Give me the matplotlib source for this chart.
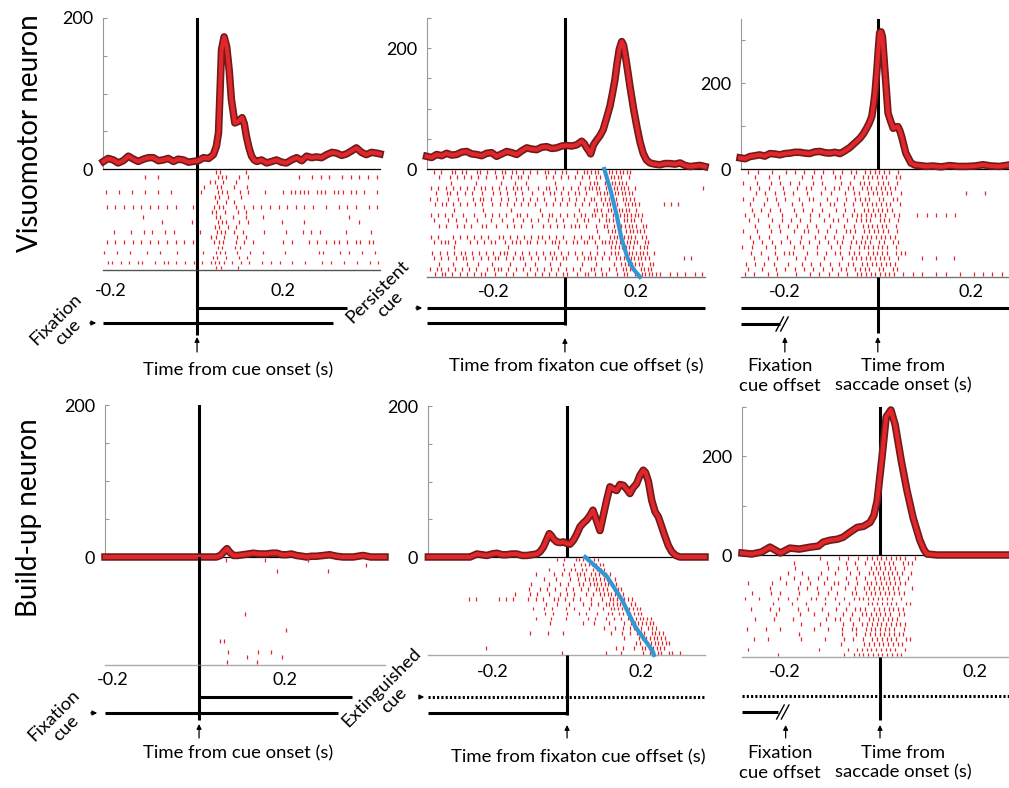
import matplotlib
matplotlib.use('Agg')
import matplotlib.pyplot as plt
import matplotlib.patheffects as pe
import numpy as np

plt.rcParams['font.family'] = ['Lato', 'DejaVu Sans']

W, H = 1009, 788

# ---------------- PSTH data (spikes/s) ----------------
vm_cue_t = [-0.218, -0.207, -0.195, -0.184, -0.172, -0.160, -0.148, -0.137, -0.125, -0.113,
            -0.102, -0.090, -0.079, -0.067, -0.055, -0.044, -0.032, -0.020, -0.009, 0.003,
            0.015, 0.027, 0.038, 0.045, 0.050, 0.054, 0.057, 0.063, 0.069, 0.075,
            0.080, 0.088, 0.096, 0.105, 0.110, 0.115, 0.121, 0.127, 0.133, 0.139,
            0.150, 0.162, 0.174, 0.185, 0.197, 0.208, 0.220, 0.232, 0.244, 0.255,
            0.267, 0.278, 0.290, 0.302, 0.314, 0.325, 0.337, 0.348, 0.360, 0.371,
            0.383, 0.394, 0.406, 0.418, 0.426]
vm_cue_rate = [10, 14, 12, 8, 11, 17, 13, 10, 13, 15,
               15, 11, 12, 14, 10, 13, 12, 9, 10, 11,
               15, 14, 19, 30, 48, 110, 158, 175, 162, 130,
               92, 61, 63, 68, 60, 43, 28, 17, 12, 10,
               12, 8, 10, 12, 9, 8, 12, 15, 11, 17,
               15, 16, 15, 19, 22, 21, 18, 20, 24, 28,
               22, 19, 22, 21, 20]

vm_fix_t = [-0.387, -0.373, -0.359, -0.345, -0.331, -0.317, -0.303, -0.289, -0.275, -0.261,
            -0.247, -0.233, -0.219, -0.205, -0.191, -0.177, -0.163, -0.149, -0.135, -0.121,
            -0.107, -0.093, -0.079, -0.065, -0.051, -0.037, -0.023, -0.009, 0.005, 0.019,
            0.033, 0.047, 0.054, 0.061, 0.067, 0.072, 0.080, 0.089, 0.098, 0.107,
            0.117, 0.126, 0.133, 0.140, 0.146, 0.152, 0.159, 0.164, 0.168, 0.175,
            0.182, 0.192, 0.201, 0.210, 0.219, 0.228, 0.238, 0.252, 0.266, 0.280,
            0.294, 0.308, 0.322, 0.336, 0.350, 0.364, 0.378, 0.392]
vm_fix_rate = [21, 19, 24, 22, 26, 23, 24, 28, 29, 25,
               24, 22, 26, 27, 21, 25, 29, 27, 24, 30,
               35, 33, 32, 36, 37, 34, 35, 38, 39, 38,
               40, 46, 42, 35, 30, 25, 40, 48, 55, 65,
               85, 104, 125, 148, 175, 198, 211, 205, 192, 165,
               137, 100, 71, 45, 26, 15, 10, 8, 7, 9,
               9, 8, 10, 6, 4, 5, 6, 4]

vm_sac_t = [-0.295, -0.284, -0.274, -0.263, -0.253, -0.242, -0.231, -0.220, -0.210, -0.199,
            -0.188, -0.178, -0.167, -0.156, -0.146, -0.135, -0.124, -0.113, -0.103, -0.092,
            -0.081, -0.074, -0.067, -0.060, -0.053, -0.046, -0.038, -0.031, -0.024, -0.018,
            -0.013, -0.009, -0.006, -0.002, 0.001, 0.004, 0.007, 0.010, 0.015, 0.022,
            0.028, 0.033, 0.038, 0.043, 0.047, 0.051, 0.060, 0.071, 0.080, 0.090,
            0.104, 0.118, 0.136, 0.154, 0.172, 0.190, 0.208, 0.225, 0.243, 0.261,
            0.279]
vm_sac_rate = [26, 24, 29, 31, 33, 30, 36, 35, 33, 36,
               37, 39, 39, 37, 36, 40, 41, 38, 37, 39,
               36, 40, 45, 50, 57, 64, 72, 82, 95, 108,
               122, 150, 177, 230, 277, 318, 320, 308, 233, 130,
               110, 95, 97, 99, 90, 76, 37, 14, 9, 8,
               6, 7, 5, 8, 6, 6, 7, 10, 7, 6,
               9]

bu_cue_t = [-0.219, -0.15, -0.1, -0.05, 0.0, 0.04, 0.05, 0.058, 0.065, 0.072,
            0.08, 0.09, 0.103, 0.115, 0.126, 0.14, 0.157, 0.17, 0.181, 0.193,
            0.204, 0.215, 0.227, 0.24, 0.25, 0.262, 0.273, 0.29, 0.304, 0.32,
            0.335, 0.347, 0.359, 0.37, 0.382, 0.4, 0.421, 0.433]
bu_cue_rate = [0, 0, 0, 0, 0, 0, 2, 7, 11, 6,
               2, 2, 3, 4, 5, 4, 4, 5, 5, 3,
               3, 4, 2, 1, 0, 1, 1, 2, 3, 1,
               0, 0, 0, 1, 2, 0, 0, 0]

bu_fix_t = [-0.375, -0.30, -0.262, -0.253, -0.244, -0.230, -0.217, -0.203, -0.190, -0.176,
            -0.163, -0.150, -0.136, -0.122, -0.109, -0.095, -0.082, -0.073, -0.064, -0.056,
            -0.048, -0.042, -0.037, -0.028, -0.019, -0.010, -0.001, 0.008, 0.017, 0.026,
            0.035, 0.044, 0.053, 0.062, 0.070, 0.080, 0.089, 0.098, 0.107, 0.116,
            0.125, 0.134, 0.143, 0.152, 0.161, 0.170, 0.179, 0.188, 0.197, 0.206,
            0.212, 0.220, 0.229, 0.238, 0.247, 0.256, 0.265, 0.274, 0.283, 0.294,
            0.305, 0.373]
bu_fix_rate = [0, 0, 0, 2, 4, 3, 2, 4, 5, 3,
               3, 4, 4, 2, 2, 3, 4, 7, 13, 22,
               31, 28, 24, 20, 19, 20, 18, 17, 22, 30,
               40, 45, 49, 55, 62, 48, 35, 55, 75, 93,
               90, 88, 96, 95, 90, 84, 92, 97, 108, 115,
               112, 100, 75, 60, 53, 40, 27, 15, 7, 2,
               0, 0]

bu_sac_t = [-0.291, -0.27, -0.25, -0.232, -0.21, -0.19, -0.17, -0.147, -0.13, -0.12,
            -0.105, -0.09, -0.078, -0.065, -0.048, -0.035, -0.021, -0.013, -0.006, 0.004,
            0.013, 0.023, 0.032, 0.045, 0.057, 0.07, 0.084, 0.092, 0.099, 0.12, 0.272]
bu_sac_rate = [4, 2, 6, 16, 4, 14, 12, 16, 18, 26,
               30, 32, 36, 45, 56, 58, 66, 80, 110, 196,
               280, 294, 264, 190, 130, 75, 30, 12, 2, 0, 0]

# ---------------- rasters: one string per trial, '|' = spike in a 10 ms bin ----------------
# per-trial offset (ms) of the bin grid, so trials do not line up column by column
trial_offset_ms = [3, 8, 1, 6, 9, 2, 7, 0, 5, 4, 8, 1, 6, 3, 0, 9, 4, 7, 2, 5]

vm_cue_start = -0.22
vm_cue_raster = [
    "..... ..... ..... ..... ..... .||.. ...|. ..... ..... ..... ..... ..... .....",
    "..... ....| ..|.. ..... ..... .|||. .|.|. ..... ..... |..|. |.|.. |.|.| .|.|.",
    "..... ..... ..... ..... ..... ||.|. .|... ..... ..... ..... ..... ..... .....",
    "..... ..... ..... ..... ...|. .||.. |..|. ..... ..... ..... ..... ..... .....",
    "|..|. .|..| ..|.. |.... ..|.. .|||. .|.|. ..|.. .|.|| |||.| ||.|| |.||. |..||",
    "..... ..... ..... ..... ..... .||.| ..|.. ..... ..... ..... ..... ..... .....",
    "..... ..... ..... ..... ..... .|.|. |.... ..... ..... ..... ..... ..... .....",
    ".|.|. |.|.| .|.|. |.|.. .|... .|||. .|.|. |.|.| .|.|. |.|.| ..|.. |.|.| ..|.|",
    "..... ..... ..... ..... ..... ||.|. .|.|. ..... ..... ..... ..... ..... .....",
    "..... ....| ..... ..... ..... .||.. |..|. ..|.. ..... ..... ..... ..|.. .....",
    "..... ..... ...|. ..... |.... .|||. .|.|. ..... .|... .|... ..... ....| ....|",
    "..... ..... ..... ..... ..... .||.| .|... ..... ..... ..... ..... ..... .....",
    "..|.. .|..| .|..| .|... ..|.. .|||. |.|.. ..|.. ..|.. .|.|. |.... .|... ..|..",
    "..... ..... ..... ..... ..... ||.|. .|.|. ..... ..... ..... ..... ..... .....",
    ".|.|. |.|.| .|.|. |.|.| .|... .|||. .|.|. |.... ..|.| ...|. |.|.| |.|.| |.||.",
    "..... ..... ..... ..... ..... .||.. ||... ..... ..... ..... ..... ..... .....",
    "|..|. .|... |..|. ..|.. ...|. .|||. .|..| ..|.. ..|.. ..... ||... |.|.. |..|.",
    "..... ..... ..... ..... ..... ||.|. .|.|. ..... ..... ..... ..... ..... .....",
    ".||.| .|.|| ..|.| |.|.| .|.|. ||||. |.|.| ..|.| .|..| ..|.. .|.|. .|..| ..|.|",
    "..... ..... ..... ..... ..... .||.. .|... ..... ..... ..... ..... ..... .....",
]

vm_fix_start = -0.38
vm_fix_raster = [
    ".|.|. .||.| |..|| .|.|. ||.|| .|.|. |.||. |.||. .|.|| |||.| ||||| ||... ..... ..... ..... .....",
    "..|.. |.|.| .|.|. |..|. |.|.| |.|.. ..|.| .|.|. |.|.| .||.| ||||. |.... ..... ..... ..... .....",
    "..... .|... ...|. ..... |...| ..|.. ..... |.... ..|.. |||.| ||||| |.... ..... ..... ..... .....",
    "|.|.| .|.|. |.|.| |.|.| .|.|| |.|.. |.||. |.|.| .|.|| |||.| ||||| |.|.. ..... ..... ..... .|.|.",
    ".|..| |.|.| .|..| ..|.| .|.|. |..|. .|.|| .|.|. ||.|. .|||| ||||| ||... ..... ..... ..... .....",
    "|.|.. |..|. ..|.| |.|.. |.|.| .|.|. |.|.. |.|.| .|.|. ||.|| |||.| |||.. ..... ..... ..... .....",
    ".|.|| .|.|. |.|.| ..|.| .|.|. |.|.| ..|.| .|.|. |.|.| .|.|| |||.| ||||. ..... |.|.| ..... .....",
    "..... ..|.. ..... |.... ...|. ..... .|... ..... ..|.. .|||. ||||| ||.|. ..... ..... ..... .....",
    "|.|.| .|..| ..|.. |.|.| .|..| |.|.. .|.|| .|.|. |.||. ||.|| .|||| ||||| ..... ..... ..... .....",
    ".|... |.|.. |..|. ..|.. |..|. .|.|. |..|. |.|.. .|.|| ..|.| |||.| |||.| ..... ..... ..... .....",
    "..|.| ..|.| .|..| |..|. .|.|. |..|. .|.|. |.|.| ||.|. .|.|| .|||| |||.| |.... ..... ..... .....",
    "..... ..... ..... ..... ..... ..... ..... ..... ..... ..|.. ||||. ||||| |.... ..... ..... .....",
    "|.|.. .|.|. |.|.| .|..| |.|.| .|.|. ||.|. |.|.. |.|.| |.|.. |||.| |||.| |.... ..... ..... .....",
    ".|.|| |.|.. .|.|. |.||. .|.|| |.||. |.|.| ||.|. ||.|| .|.|| ||||| ||||. ||... ..... ..... ....|",
    "..... ..|.. ..... ..... ..|.. ..... ..... .|... ..... ..|.. .|||| |||.| ||... ..... ..... .....",
    "|.|.| .|.|| .|.|. |.|.| ||.|. |.|.| .|.|| .|.|. |.|.| .|.|. |||.| ||||| |.|.. ..... ..... .....",
    ".|.|. |.|.| |.|.| .|.|| .|.|. ||.|. |.|.| |.||. .|.|| ||.|. |.||| ||||| ||... ..... .|.|. .....",
    "..|.. .|... |..|. ..|.. ..|.. .|..| ...|. .|... ..|.. .|... .|.|| ||||| .||.. ..... ..... .....",
    "|.||. |.|.| .|.|. .|.|| |.|.| .|.|. |.|.| .|.|. |.|.. ||.|. |.|.| |||.| |||.. ..... ..... .....",
    ".|.|| .|.|. |.|.| |..|. .|.|. ..|.| .|.|. |.||. .|.|| .|.|| ..|.| |.||| ||||| ..|.| .|..| .|.|.",
]
vm_fix_rt_frac = [0.0, 0.2, 0.43, 0.64, 0.82, 0.92, 1.0]
vm_fix_rt_t = [0.11, 0.128, 0.145, 0.158, 0.175, 0.19, 0.21]

vm_sac_start = -0.29
vm_sac_raster = [
    ".|.|. .|..| .|.|. |.|.| .|.|| .|||| ||.|. ..... ..... ..... ..... .....",
    "..|.. |.|.. ..|.| .|..| |..|. ||||| |.||. ..... ..... ..... ..... .....",
    "|..|. .|.|. |.|.. |.|.. .|.|. |||.| ||.|. ..... ..... ..... ..... .....",
    ".|.|. |..|. .|.|| ..|.| |.||. ||||| |||.. ..... ..... ..... ..... .....",
    "..|.| .|.|. |..|. .|.|. .|.|| .|||| ||.|. ..... ..... ..|.. .|... ..|..",
    "|.|.. |.|.| ..|.| |..|. |.|.| |||.| |.||. ..... ..... ..... ..... .....",
    ".|..| ..|.. |.|.. .|.|| .|.|. ||||| ||.|. ..... ..... ..... ..... .....",
    "..|.| .|.|. .|.|. |.|.. |.|.| .|||| |||.. ..... ..... ..... ..... .....",
    "|.|.. |..|. .|..| .|.|. .|.|| ||||| |.||. ..|.| .|.|. |.... ..... .....",
    ".|.|. .|.|. |.|.| ..|.| |.|.| |||.| ||.|. ..... ..... ..... ..... .....",
    "..|.. |.|.| .|.|. |..|. .|.|. ||||| |.|.. ..... ..... ..... ..... .....",
    "|..|. .|.|. .|.|| .|.|. |.||| .|||| ||.|. ..... ..... ..... ..... .....",
    ".|.|. |...| ..|.. |.|.| .|.|. ||||| |||.. ..... ..... ..... ..... ..|..",
    "..|.| .|.|. |.|.| .|.|. ||.|| |||.| |.||. ..... ..... ..... ..... .....",
    "|.|.. |.|.. .|.|. .|..| .|.|. ||||| ||.|. ..... ..... ..... ..... .....",
    ".|.|. .|.|| |..|. |.|.| |.||| .|||| |.||| ..... ..... ..... ..... .....",
    "..|.. |.|.. .|.|. ..|.. .|.|| ||||| ||.|. ...|. .|... |.... ..... .....",
    "|.|.| .|..| ..|.| .|.|. |.||. ||||| |||.. ..... ..... ..... ..... .....",
    ".|..| ..|.| .|.|. |.|.| .||.| |||.| |.||. ..... ..... ..... ..... .....",
    "|.|.. |.|.. .|..| .|.|. |.|.| ||||| |||.| .|.|. .|.|. .|..| .|.|. |.|.|",
]

bu_cue_start = -0.22
bu_cue_raster = [
    "..... ..... ..... ..... ..... ...|. ..... ..|.. ..... ..|.. ..... ..... .....",
    "..... ..... ..... ..... ..... ..... ..... ..... ..... ..... ..... ..... |....",
    "..... ..... ..... ..... ..... ..... ..... ..... |.... ..... ..|.. ..... .....",
    "", "", "", "", "", "", "",
    "..... ..... ..... ..... ..... ..... ..|.. .....",
    "", "",
    "..... ..... ..... ..... ..... ..... ..... ..... ..|..",
    "",
    "..... ..... ..... ..... ..... .||..",
    "",
    "..... ..... ..... ..... ..... ...|. ..... |..|.",
    "..... ..... ..... ..... ..... ..... ...|. ..... .|...",
    "..... ..... ..... ..... ..... ...|. ..... |....",
]

bu_fix_start = -0.37
bu_fix_raster = [
    "..... ..... ..... ..... ..... ..... ....| .|..| |||.| |.... ..... ..... ..... ..... .....",
    "..... ..... ..... ..... ..... ..... ..... |..|. ||||| ||... ..... ..... ..... ..... .....",
    "..... ..... ..... ..... ..... ..... ..|.. .|.|| .||.| |||.. ..... ..... ..... ..... .....",
    "..... ..... ..... ..... ..... ...|. ...|. |.|.| ||.|| ||||. ..... ..... ..... ..... .....",
    "..... ..... ..... ..... ..... ..... |..|. ..|.| .|||| |||.| ..... ..... ..... ..... .....",
    "..... ..... ..... ..... ..... ..|.. ..|.. |.|.. ||.|| ||||| |.... ..... ..... ..... .....",
    "..... ..... ..... ..... ..... .|..| .|.|. .|.|. |.|.| |||.| ||... ..... ..... ..... .....",
    "..... ..... ..... ..... ...|. ..|.| ..|.. |.|.| ..|.| .|||| |||.. ..... ..... ..... .....",
    "..... ..... |.|.. ...|. |.|.. .|.|. |..|| .|.|. |..|. .|.|| ||||| ..... ..... ..... .....",
    "..... ..... ..... ..... ..... ..... .|..| ..|.. .|.|. |.||| |||.| |.... ..... ..... .....",
    "..... ..... ..... ..... ..... ..|.. |.|.. .|.|. ..|.. .|.|| ||||| ||... ..... ..... .....",
    "..... ..... ..... ..... ..... ..... .|.|. ..|.. |.|.. |..|| .|||| |||.. ..... ..... .....",
    "..... ..... ..... ..... ..... ...|. ..|.. .|... ..|.| ..|.| .|.|| ||||| ..... ..... .....",
    "..... ..... ..... ..... ..... ..... ..|.. ..... .|..| ...|. ..|.| ||||| |.... ..... .....",
    "..... ..... ..... ..... ..... ..... ..... ..... ..... ..|.. |.|.| |||.| ||... ..... .....",
    "..... ..... ..... ..... ..... .|... .|... |.... ..... ...|. .|.|. |||.| |||.. ..... .....",
    "..... ..... ..... ..... ..... ..... ..... ..... ..... ..... ..|.. .|||| ||||. ..... .....",
    "..... ..... ..... ..... ..... ..... ..... ..... ..... ..... ..... ||.|| ||||| ..... .....",
    "..... ..... ..... |.... ..... ..... ..... ..... ..... ..... |.|.. |.||| ||||. ..... .....",
    "..... ..... ..... ..... ..... ..... ..... |.... ..... ..|.. .|... ..|.| |||.| |.|.. .....",
]
bu_fix_rt_frac = [0.0, 0.2, 0.44, 0.71, 0.95, 1.0]
bu_fix_rt_t = [0.049, 0.108, 0.149, 0.184, 0.23, 0.235]

bu_sac_start = -0.29
bu_sac_raster = [
    "..... ..... ..... .|... |.|.| .|||| ||||| .|... .....",
    "..... ..... |.... ..|.. .|.|. |.||| ||.|| |.... .....",
    "..... ..... .|... ...|. |.|.| ..||| |||.| .....",
    "..... ....| ..|.. .|..| ..|.| .|||| ||||. |....",
    "..... ..|.. |..|. |.|.. .|.|. |.||| |||.| .....",
    ".|... .|..| ..|.| ..|.| |.|.| .|||| ||||| .....",
    "..... |.... .|.|. |..|. .|.|. ||||| |||.. |....",
    "..|.. .|.|. ..|.. .|.|. |..|| .|||| ||||| .....",
    "|..|. ..|.| .|..| |.|.| .|.|| ||||| ||.|. .....",
    "..... .|... |..|. ..|.. |.|.. .|||| |||.| |....",
    ".|... |.|.. .|.|. .|..| .|.|| |.||| ||||. .....",
    "..... ..|.. ..|.. |..|. .|.|. ||||| ||.|| .....",
    "..|.. .|... |.... ..|.| |.|.| .|||| |||.. .....",
    "..... ..... ..|.. .|... .|.|. ||||| ||||| .....",
    ".|... |..|. ..... |..|. .|.|| .|||| |||.| .....",
    "..... ..... .|... ..... |..|. ||||| ||||. .....",
    "..|.. |.... ..|.. ..|.. .|.|. |.||| |||.| |....",
    "..... ..... ..... ..... |.... ||||| ||||. .....",
    ".|... ..... ..... .|... ..|.| ||||| |||.| .....",
    "..... ..|.. ..... ..... .|.|| ||||| ||||. .....",
]

# ---------------- layout (pixel boxes) ----------------
panels = [
    dict(t=vm_cue_t, rate=vm_cue_rate, raster=vm_cue_raster, start=vm_cue_start,
         xlim=(-0.219, 0.426), x0=103, x1=380, top=18, zero=169, rbot=270, ebot=398,
         ymax=200, yticks=[0, 50, 100, 150, 200], vras=True, rline='#555555', xpad=13),
    dict(t=vm_fix_t, rate=vm_fix_rate, raster=vm_fix_raster, start=vm_fix_start,
         xlim=(-0.386, 0.392), x0=427, x1=705, top=18, zero=169, rbot=277, ebot=398,
         ymax=250, yticks=[0, 50, 100, 150, 200, 250], vras=False, rline='#777777', xpad=7,
         rt=(vm_fix_rt_frac, vm_fix_rt_t)),
    dict(t=vm_sac_t, rate=vm_sac_rate, raster=vm_sac_raster, start=vm_sac_start,
         xlim=(-0.293, 0.281), x0=741, x1=1009, top=19, zero=169, rbot=277, ebot=398,
         ymax=350, yticks=[0, 100, 200, 300], vras=False, rline='#777777', xpad=7),
    dict(t=bu_cue_t, rate=bu_cue_rate, raster=bu_cue_raster, start=bu_cue_start,
         xlim=(-0.219, 0.433), x0=105, x1=385, top=405, zero=557, rbot=665, ebot=790,
         ymax=200, yticks=[0, 50, 100, 150, 200], vras=True, rline='#aaaaaa', xpad=7),
    dict(t=bu_fix_t, rate=bu_fix_rate, raster=bu_fix_raster, start=bu_fix_start,
         xlim=(-0.376, 0.373), x0=428, x1=705, top=406, zero=557, rbot=655, ebot=790,
         ymax=200, yticks=[0, 50, 100, 150, 200], vras=False, rline='#aaaaaa', xpad=9,
         rt=(bu_fix_rt_frac, bu_fix_rt_t)),
    dict(t=bu_sac_t, rate=bu_sac_rate, raster=bu_sac_raster, start=bu_sac_start,
         xlim=(-0.291, 0.272), x0=742, x1=1009, top=407, zero=555, rbot=657, ebot=790,
         ymax=300, yticks=[0, 100, 200, 300], vras=False, rline='#aaaaaa', xpad=7),
]

# event lines: (y px, t start, t end, style); None = axis edge
events = [
    [(308, 0.0, 0.349, '-'), (323, None, 0.316, '-')],
    [(308, None, None, '-'), (323, None, 0.0, '-')],
    [(308, None, None, '-'), (324, None, -0.21, '-')],
    [(697, 0.0, 0.356, '-'), (713, None, 0.323, '-')],
    [(697, None, None, ':'), (713, None, 0.0, '-')],
    [(696, None, None, ':'), (712, None, -0.215, '-')],
]
vline_end = [335, 325, 333, 720, 715, 720]
arrow_y = [(337, 352), (338, 352), (337, 352), (724, 738), (725, 738), (725, 738)]
fix_break = {2: (-0.205, 324), 5: (-0.205, 712)}

RED = '#e1262c'
DARK = '#6e1b1b'
BLUE = '#3297d3'


def fx(x):
    return x / W


def fy(y):
    return 1 - y / H


def box(x0, y0, x1, y1):
    return [x0 / W, 1 - y1 / H, (x1 - x0) / W, (y1 - y0) / H]


fig = plt.figure(figsize=(W / 100, H / 100), dpi=100)

for i, p in enumerate(panels):
    # PSTH
    ax = fig.add_axes(box(p['x0'], p['top'], p['x1'], p['zero']))
    ax.set_xlim(p['xlim'])
    ax.set_ylim(0, p['ymax'])
    ax.axvline(0, color='k', lw=2.2, zorder=1)
    ax.plot(p['t'], p['rate'], color=RED, lw=3.0, zorder=3, clip_on=False,
            solid_joinstyle='round',
            path_effects=[pe.Stroke(linewidth=5.4, foreground=DARK), pe.Normal()])
    for s in ['top', 'right']:
        ax.spines[s].set_visible(False)
    ax.spines['left'].set_color('#999999')
    ax.spines['left'].set_linewidth(0.8)
    ax.spines['bottom'].set_color('k')
    ax.spines['bottom'].set_linewidth(0.9)
    ax.set_xticks([])
    ax.set_yticks(p['yticks'])
    ax.set_yticklabels(['0' if v == 0 else ('200' if v == 200 else '') for v in p['yticks']])
    ax.tick_params(axis='y', direction='in', length=3, color='#999999', labelsize=13, pad=7)
    ax.patch.set_alpha(0)

    # raster
    ar = fig.add_axes(box(p['x0'], p['zero'], p['x1'], p['rbot']))
    ar.set_xlim(p['xlim'])
    n = len(p['raster'])
    ar.set_ylim(n, 0)
    if p['vras']:
        ar.axvline(0, color='k', lw=2.2, zorder=1)
    for r, row in enumerate(p['raster']):
        s = row.replace(' ', '')
        off = trial_offset_ms[r] / 1000.0
        ts = [p['start'] + k * 0.01 + off for k, c in enumerate(s) if c == '|']
        if ts:
            ar.vlines(ts, r + 0.15, r + 0.9, color=RED, lw=0.9, zorder=2)
    if 'rt' in p:
        frac, rt = p['rt']
        ar.plot(rt, np.array(frac) * n, color=BLUE, lw=3.0, zorder=4, clip_on=False)
    for s in ['top', 'right', 'left']:
        ar.spines[s].set_visible(False)
    ar.spines['bottom'].set_color(p['rline'])
    ar.spines['bottom'].set_linewidth(1.0)
    ar.set_yticks([])
    ar.set_xticks([-0.2, 0.2])
    ar.set_xticklabels(['-0.2', '0.2'])
    ar.tick_params(axis='x', length=0, labelsize=13, pad=p['xpad'] * 0.72)
    ar.patch.set_alpha(0)

    # events
    ae = fig.add_axes(box(p['x0'], p['rbot'], p['x1'], p['ebot']))
    ae.set_xlim(p['xlim'])
    ae.set_ylim(p['ebot'], p['rbot'])
    ae.axis('off')
    for (y, a, b, ls) in events[i]:
        a = p['xlim'][0] if a is None else a
        b = p['xlim'][1] if b is None else b
        if ls == ':':
            ae.plot([a, b], [y, y], color='k', lw=2.2, ls=(0, (0.7, 0.7)), clip_on=False)
        else:
            ae.plot([a, b], [y, y], color='k', lw=2.2, clip_on=False, solid_capstyle='butt')
    ae.plot([0, 0], [p['rbot'], vline_end[i]], color='k', lw=2.2, clip_on=False,
            solid_capstyle='butt')
    head, tail = arrow_y[i]
    ae.annotate('', xy=(0, head), xytext=(0, tail), annotation_clip=False,
                arrowprops=dict(arrowstyle='-|>', lw=0.9, color='k', mutation_scale=7,
                                shrinkA=0, shrinkB=0))
    if i in fix_break:
        tb, yb = fix_break[i]
        for d in (-0.005, 0.005):
            ae.plot([tb + d - 0.008, tb + d + 0.008], [yb + 7, yb - 7], color='k', lw=1.0,
                    clip_on=False)
        ae.annotate('', xy=(tb + 0.006, head), xytext=(tb + 0.006, tail), annotation_clip=False,
                    arrowprops=dict(arrowstyle='-|>', lw=0.9, color='k', mutation_scale=7,
                                    shrinkA=0, shrinkB=0))

# ---------------- texts ----------------
fs = 13.3
fig.text(fx(30), fy(133), 'Visuomotor neuron', rotation=90, fontsize=20, ha='center', va='center')
fig.text(fx(29), fy(518), 'Build-up neuron', rotation=90, fontsize=20, ha='center', va='center')

fig.text(fx(238), fy(370), 'Time from cue onset (s)', fontsize=fs, ha='center', va='center')
fig.text(fx(576), fy(366), 'Time from fixaton cue offset (s)', fontsize=fs, ha='center', va='center')
fig.text(fx(780), fy(376), 'Fixation\ncue offset', fontsize=fs, ha='center', va='center',
         linespacing=1.25)
fig.text(fx(903), fy(376), 'Time from\nsaccade onset (s)', fontsize=fs, ha='center', va='center',
         linespacing=1.25)
fig.text(fx(238), fy(753), 'Time from cue onset (s)', fontsize=fs, ha='center', va='center')
fig.text(fx(578), fy(757), 'Time from fixaton cue offset (s)', fontsize=fs, ha='center', va='center')
fig.text(fx(780), fy(763), 'Fixation\ncue offset', fontsize=fs, ha='center', va='center',
         linespacing=1.25)
fig.text(fx(903), fy(763), 'Time from\nsaccade onset (s)', fontsize=fs, ha='center', va='center',
         linespacing=1.25)

cue_labels = [('Fixation\ncue', 62, 326, 87, 99, 323),
              ('Persistent\ncue', 384, 298, 413, 425, 308),
              ('Fixation\ncue', 60, 722, 88, 100, 713),
              ('Extinguished\ncue', 388, 694, 417, 427, 697)]
for s, cx, cy, a0, a1, ya in cue_labels:
    fig.text(fx(cx), fy(cy), s, rotation=45, fontsize=fs, ha='center', va='center',
             multialignment='center', rotation_mode='anchor', linespacing=1.15)
    fig.add_artist(matplotlib.patches.FancyArrowPatch(
        (fx(a0), fy(ya)), (fx(a1), fy(ya)), transform=fig.transFigure,
        arrowstyle='-|>', mutation_scale=7, lw=0.9, color='k'))

fig.savefig('out.png', dpi=100)
